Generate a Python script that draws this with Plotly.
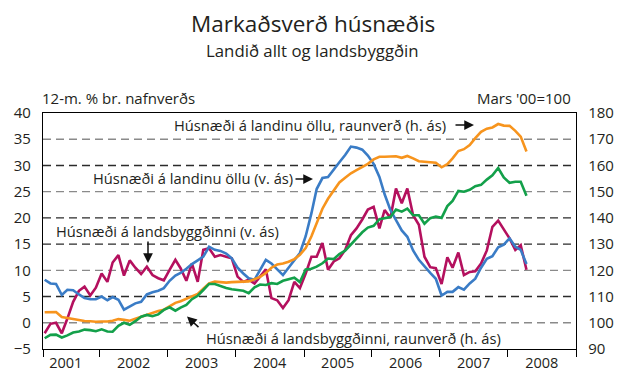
import pandas as pd
import plotly.graph_objects as go

FONT = "Open Sans"
INK = "#231f20"

# Monthly observations, March 2001 - April 2008
START = "2001-03-01"

# 12-month change in nominal house prices, whole country (left axis, %)
landid_nafnverd = [
    8.2, 7.5, 7.4, 5.3, 6.3, 6.2, 5.4, 4.7, 4.5, 4.5,
    5.0, 4.3, 4.9, 4.4, 2.5, 3.1, 3.7, 4.0, 5.4, 5.8, 6.1, 6.6,
    8.0, 9.0, 9.5, 10.3, 11.2, 11.9, 12.6, 14.5, 13.9, 13.7, 13.2, 12.3,
    10.5, 9.4, 8.5, 8.2, 10.0, 12.0, 11.3, 10.2, 9.1, 10.5, 12.0, 13.3,
    16.5, 20.9, 25.5, 27.6, 27.8, 29.3, 30.6, 32.0, 33.6, 33.4, 33.0, 31.9,
    30.3, 27.8, 24.5, 21.5, 19.6, 17.6, 16.4, 13.8, 12.0, 10.7, 9.5, 8.4,
    5.2, 5.9, 5.9, 6.8, 6.3, 7.5, 8.4, 10.5, 12.2, 12.7, 14.4, 14.9,
    16.1, 14.5, 13.9, 11.2,
]

# 12-month change in nominal house prices, regions outside the capital (left axis, %)
landsbyggd_nafnverd = [
    -2.0, -0.2, 0.0, -2.0, 0.8, 4.0, 6.1, 6.9, 5.2, 6.7,
    9.4, 7.8, 11.5, 12.9, 9.0, 11.9, 10.5, 9.3, 10.7, 9.1, 8.5, 8.1,
    10.1, 12.0, 10.4, 8.0, 11.3, 7.8, 13.9, 14.2, 12.6, 12.9, 12.6, 12.3,
    8.8, 7.8, 8.2, 7.5, 8.8, 10.2, 4.7, 4.3, 2.8, 4.3, 7.8, 6.6,
    9.4, 12.6, 12.6, 15.2, 10.1, 11.7, 12.3, 13.9, 16.7, 18.0, 19.7, 21.6,
    22.1, 18.0, 21.5, 20.0, 25.6, 22.8, 25.6, 20.5, 18.7, 12.6, 10.6, 10.4,
    7.4, 12.5, 10.5, 13.4, 9.1, 9.7, 9.8, 11.3, 13.8, 18.3, 19.5, 17.7,
    16.1, 13.9, 14.8, 10.1,
]

# Real house price index, whole country (right axis, March 2000 = 100)
landid_raunverd = [
    104.0, 104.0, 104.1, 102.2, 101.8, 101.5, 101.1, 100.7, 100.6, 100.4,
    100.5, 100.5, 100.8, 101.4, 101.1, 100.8, 101.5, 102.3, 103.0, 103.8, 104.5, 105.0,
    106.2, 107.6, 108.2, 109.1, 109.8, 111.0, 113.0, 115.0, 115.7, 115.5, 115.3, 115.5,
    115.7, 115.7, 115.8, 116.6, 117.5, 119.0, 121.0, 122.2, 122.6, 123.3, 124.3, 125.9,
    128.5, 133.0, 138.0, 143.5, 147.3, 150.3, 153.5, 155.3, 157.0, 158.2, 159.4, 160.6,
    162.3, 163.3, 163.3, 163.5, 163.5, 162.9, 163.6, 162.7, 161.6, 161.4, 161.3, 161.0,
    159.3, 160.5, 162.7, 165.5, 166.2, 167.8, 170.4, 172.8, 174.0, 174.5, 175.8, 175.2,
    175.1, 173.2, 171.0, 165.3,
]

# Real house price index, regions outside the capital (right axis, March 2000 = 100)
landsbyggd_raunverd = [
    94.1, 95.4, 95.5, 94.4, 95.2, 96.3, 96.7, 97.4, 97.2, 96.8,
    97.5, 96.7, 96.6, 98.8, 100.0, 99.2, 100.6, 102.3, 103.0, 102.5, 103.2, 104.9,
    105.9, 104.6, 105.8, 106.8, 109.0, 110.3, 112.5, 114.8, 114.8, 114.0, 113.3, 112.8,
    112.5, 112.2, 111.3, 113.5, 114.6, 114.4, 115.1, 114.8, 116.0, 116.5, 117.2, 115.5,
    120.3, 120.6, 121.4, 122.7, 124.5, 124.3, 126.2, 127.5, 130.0, 132.0, 134.5, 136.3,
    137.0, 139.5, 139.8, 140.3, 143.2, 142.4, 143.5, 141.0, 141.0, 137.8, 139.9, 140.5,
    140.0, 144.5, 146.5, 150.3, 150.0, 150.7, 152.1, 152.6, 154.6, 156.2, 159.0, 155.4,
    153.4, 153.8, 153.8, 148.4,
]

YEARS = ["2001", "2002", "2003", "2004", "2005", "2006", "2007", "2008"]
LEFT_TICKS = [-5, 0, 5, 10, 15, 20, 25, 30, 35, 40]
RIGHT_TICKS = [90, 100, 110, 120, 130, 140, 150, 160, 170, 180]
GRID_LEVELS = [0, 5, 10, 15, 20, 25, 30, 35]
GRID_SHADES = ["#8a8a8a", "#2b2b2b", "#8a8a8a", "#2b2b2b", "#2b2b2b", "#8a8a8a", "#2b2b2b", "#8a8a8a"]

months = pd.date_range(START, periods=len(landid_nafnverd), freq="MS") + pd.Timedelta(days=9)

# plot-area geometry (pixels)
W_FIG, H_FIG = 621, 371
M_L, M_R, M_T, M_B = 43, 45, 113, 22
PW = W_FIG - M_L - M_R
PH = H_FIG - M_T - M_B


def fx(px):
    return (px - M_L) / PW


def fy(py):
    return (M_T + PH - py) / PH


fig = go.Figure()

series = [
    (landid_raunverd, "#f7941d", "y2", "Húsnæði á landinu öllu, raunverð (h. ás)"),
    (landsbyggd_raunverd, "#13a04a", "y2", "Húsnæði á landsbyggðinni, raunverð (h. ás)"),
    (landsbyggd_nafnverd, "#b4105e", "y", "Húsnæði á landsbyggðinni (v. ás)"),
    (landid_nafnverd, "#3a7cc6", "y", "Húsnæði á landinu öllu (v. ás)"),
]
for values, colour, axis, name in series:
    fig.add_trace(go.Scatter(
        x=months, y=values, mode="lines", name=name, yaxis=axis,
        line=dict(color=colour, width=2.6), showlegend=False,
    ))

# dashed horizontal guides
for level, shade in zip(GRID_LEVELS, GRID_SHADES):
    fig.add_shape(type="line", xref="paper", x0=0, x1=1, yref="y", y0=level, y1=level,
                  line=dict(color=shade, width=1.4, dash="8px,5px"), layer="below")

boundaries = ["2001-03-01"] + [f"{int(y) + 1}-01-01" for y in YEARS]
midyears = [f"{y}-07-01" for y in YEARS]

fig.update_layout(
    width=W_FIG, height=H_FIG,
    margin=dict(l=M_L, r=M_R, t=M_T, b=M_B, autoexpand=False),
    paper_bgcolor="white", plot_bgcolor="white",
    font=dict(family=FONT, size=15, color=INK),
    xaxis=dict(
        type="date", range=["2001-03-01", "2009-01-01"], automargin=False,
        tickvals=midyears, ticktext=YEARS, ticks="", ticklabelstandoff=0,
        showgrid=False, zeroline=False,
        showline=True, linecolor="black", linewidth=1.4, mirror=True,
        minor=dict(tickvals=boundaries, ticks="outside", ticklen=7,
                   tickwidth=1.4, tickcolor="black", showgrid=False),
        tickfont=dict(size=14.5),
    ),
    yaxis=dict(
        range=[-5, 40], tickvals=LEFT_TICKS, ticks="", ticklabelstandoff=8,
        automargin=False,
        showgrid=False, zeroline=False,
        showline=True, linecolor="black", linewidth=1.4,
        tickfont=dict(size=15),
    ),
    yaxis2=dict(
        range=[90, 180], tickvals=RIGHT_TICKS, ticks="", ticklabelstandoff=8,
        overlaying="y", side="right", automargin=False,
        showgrid=False, zeroline=False,
        showline=True, linecolor="black", linewidth=1.4,
        tickfont=dict(size=15),
    ),
)

texts = [
    ("Markaðsverð húsnæðis", 313, 24, 22.5, "center"),
    ("Landið allt og landsbyggðin", 312, 50, 16.8, "center"),
    ("12-m. % br. nafnverðs", 40, 98, 15, "left"),
    ("Mars '00=100", 573, 98, 15, "right"),
    ("Húsnæði á landinu öllu, raunverð (h. ás)", 172, 125, 14.7, "left"),
    ("Húsnæði á landinu öllu (v. ás)", 91, 178, 14.7, "left"),
    ("Húsnæði á landsbyggðinni (v. ás)", 54, 231, 14.7, "left"),
    ("Húsnæði á landsbyggðinni, raunverð (h. ás)", 204, 338, 14.7, "left"),
]
for text, px, py, size, anchor in texts:
    fig.add_annotation(text=text, xref="paper", yref="paper", x=fx(px), y=fy(py),
                       xanchor=anchor, yanchor="middle", showarrow=False,
                       font=dict(size=size, color=INK, family=FONT))

# pointers from the labels to their lines: (head x, head y, tail x, tail y)
pointers = [
    (474, 125, 454, 125),
    (313, 179, 294, 179),
    (148, 263, 148, 240),
    (187, 316.5, 200, 328.5),
]
for hx, hy, tx, ty in pointers:
    fig.add_annotation(text="", xref="paper", yref="paper", x=fx(hx), y=fy(hy),
                       ax=tx - hx, ay=ty - hy, showarrow=True,
                       arrowhead=2, arrowsize=1.3, arrowwidth=1.5, arrowcolor="#111")

fig.write_html("out.html")
